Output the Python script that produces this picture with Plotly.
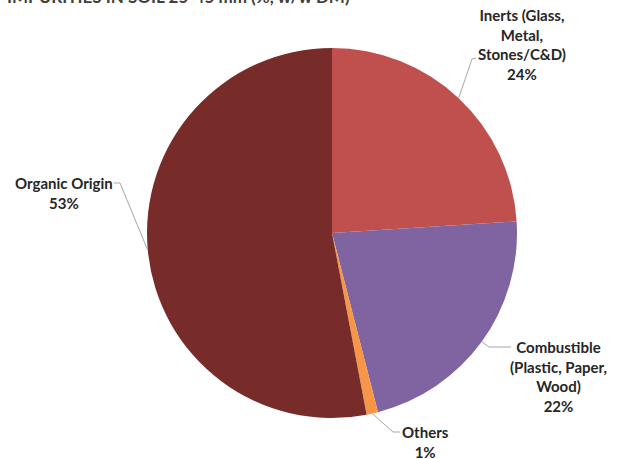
import math
import plotly.graph_objects as go

# Composition of impurities (% w/w DM)
labels = ["Inerts (Glass,<br>Metal,<br>Stones/C&D)", "Combustible<br>(Plastic, Paper,<br>Wood)", "Others", "Organic Origin"]
values = [24, 22, 1, 53]
colors = ["#C0504D", "#8064A2", "#F79646", "#772C2A"]

W, H = 619, 459
CX, CY, R = 332, 233, 185  # pie centre / radius in pixels

# label placement (pixel centre of each text block) and leader elbow/end points
label_pos = [(522, 45), (558, 376), (425, 442), (64, 193)]
leader_pts = [
    [(472, 59), (476, 58)],
    [(489, 347), (511, 347)],
    [(393, 432), (400, 432)],
    [(120, 183), (114, 183)],
]

FONT = "Lato, 'Open Sans', sans-serif"
TEXT_COLOR = "#262626"


def px(x, y):
    return x / W, 1 - y / H


fig = go.Figure(
    go.Pie(
        labels=[l.replace("<br>", " ") for l in labels],
        values=values,
        marker=dict(colors=colors, line=dict(width=0)),
        sort=False,
        direction="clockwise",
        rotation=0,
        textinfo="none",
        hoverinfo="label+percent",
        domain=dict(x=[(CX - R) / W, (CX + R) / W], y=[(H - CY - R) / H, (H - CY + R) / H]),
        showlegend=False,
    )
)

total = sum(values)
shapes = []
annotations = []
cum = 0
for lab, v, (lx, ly), pts in zip(labels, values, label_pos, leader_pts):
    mid = (cum + v / 2) / total * 2 * math.pi
    cum += v
    ex = CX + R * math.sin(mid)
    ey = CY - R * math.cos(mid)
    path_pts = [(ex, ey)] + pts
    path = "M " + " L ".join(f"{px(x, y)[0]:.5f},{px(x, y)[1]:.5f}" for x, y in path_pts)
    shapes.append(dict(type="path", path=path, xref="paper", yref="paper",
                       line=dict(color="#A6A6A6", width=1)))
    pct = round(v / total * 100)
    ax, ay = px(lx, ly)
    annotations.append(dict(
        text=f"<b>{lab}<br>{pct}%</b>", x=ax, y=ay, xref="paper", yref="paper",
        xanchor="center", yanchor="middle", showarrow=False, align="center",
        font=dict(family=FONT, size=15, color=TEXT_COLOR),
    ))

# chart title running off the top edge
annotations.append(dict(
    text="<b>IMPURITIES IN SOIL 25-45 mm (%, w/w DM)</b>", x=5 / W, y=1, xref="paper", yref="paper",
    xanchor="left", yanchor="bottom", yshift=-9, showarrow=False,
    font=dict(family=FONT, size=17, color="#404040"),
))

fig.update_layout(
    width=W, height=H,
    margin=dict(l=0, r=0, t=0, b=0),
    paper_bgcolor="white", plot_bgcolor="white",
    shapes=shapes, annotations=annotations,
)

fig.write_html("out.html")
